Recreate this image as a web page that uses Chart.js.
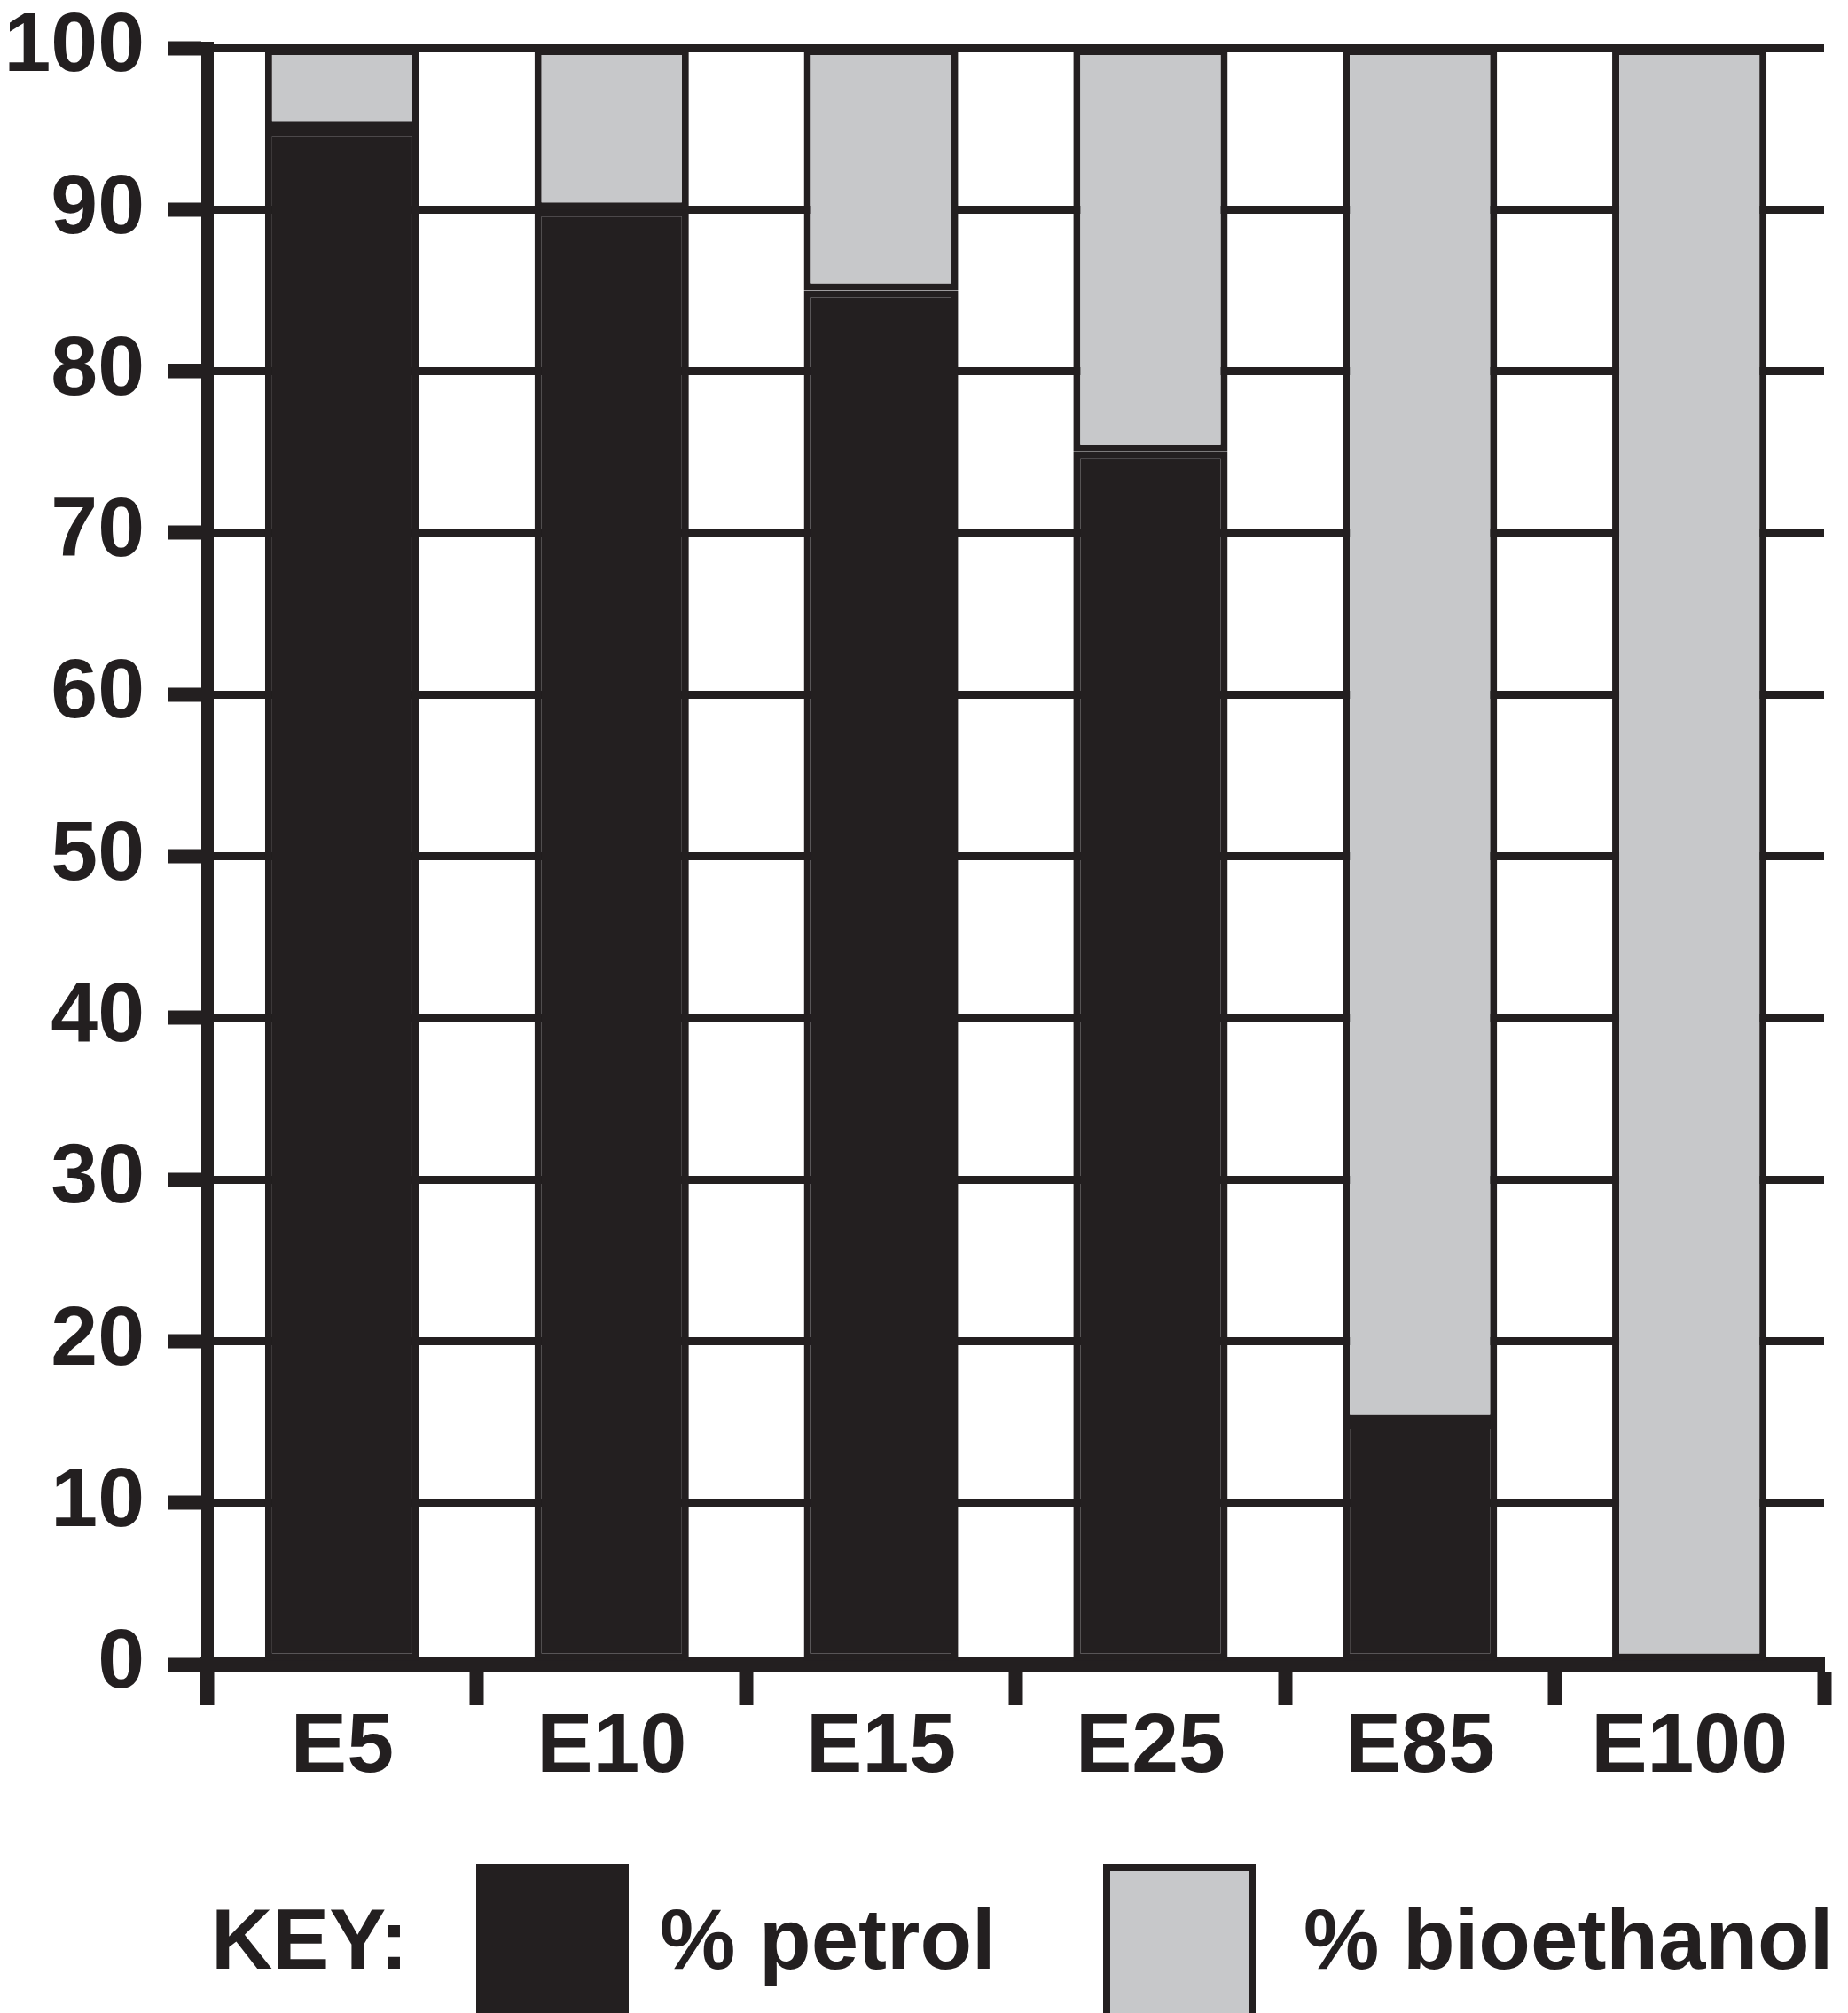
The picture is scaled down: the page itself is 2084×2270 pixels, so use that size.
<!DOCTYPE html>
<html>
<head>
<meta charset="utf-8">
<script src="https://cdn.jsdelivr.net/npm/chart.js@4.4.1/dist/chart.umd.min.js"></script>
<style>
  html, body { margin: 0; padding: 0; background: #fff; overflow: hidden; }
  #wrap { position: relative; width: 2084px; height: 2270px; overflow: hidden; }
  #chart { position: absolute; left: 0; top: -29px; }
  .key { position: absolute; font: bold 96px "Liberation Sans", Arial, sans-serif; line-height: 96px; color: #231f20; white-space: nowrap; }
  .swatch { position: absolute; box-sizing: border-box; top: 2102px; height: 200px; }
</style>
</head>
<body>
<div id="wrap">
  <canvas id="chart" width="2084" height="2049"></canvas>
  <div id="legend"></div>
</div>
<script>
// blends and their make-up (% by volume)
const categories = ['E5', 'E10', 'E15', 'E25', 'E85', 'E100'];
const petrol = [95, 90, 85, 75, 15, 0];
const bioethanol = [5, 10, 15, 25, 85, 100];
const yTicks = [0, 10, 20, 30, 40, 50, 60, 70, 80, 90, 100];
const seriesNames = ['% petrol', '% bioethanol'];

const ink = '#231f20';
const grey = '#c7c8ca';
const yFont = { family: '"Liberation Sans", Arial, sans-serif', size: 95, weight: 'bold' };
const xFont = { family: '"Liberation Sans", Arial, sans-serif', size: 95, weight: 'bold', lineHeight: 1 };

document.addEventListener('DOMContentLoaded', function () {
    const ctx = document.getElementById('chart').getContext('2d');
    const chart = new Chart(ctx, {
        type: 'bar',
        data: {
            labels: categories,
            datasets: [{
                label: seriesNames[0],
                data: petrol,
                backgroundColor: ink,
                borderColor: ink,
                borderWidth: 8,
                borderSkipped: false
            }, {
                label: seriesNames[1],
                data: bioethanol,
                backgroundColor: grey,
                borderColor: ink,
                borderWidth: 8,
                borderSkipped: false
            }]
        },
        options: {
            responsive: false,
            animation: false,
            devicePixelRatio: 1,
            datasets: { bar: { categoryPercentage: 1, barPercentage: 0.573 } },
            layout: { padding: { left: 0, right: 27, top: 6, bottom: 0 } },
            plugins: { legend: { display: false }, tooltip: { enabled: false } },
            scales: {
                x: {
                    stacked: true,
                    grid: { offset: true, drawOnChartArea: false, drawTicks: true, tickLength: 46, tickWidth: 16, tickColor: ink },
                    border: { display: true, width: 17, color: ink },
                    ticks: { font: xFont, color: ink, padding: 1 }
                },
                y: {
                    stacked: true,
                    min: 0,
                    max: 100,
                    afterBuildTicks: function (scale) {
                        scale.ticks = yTicks.map(v => ({ value: v }));
                    },
                    afterFit: function (scale) {
                        scale.width = 234;
                    },
                    grid: { lineWidth: 9, color: ink, tickLength: 45, tickWidth: 16, tickColor: ink },
                    border: { display: true, width: 14, color: ink },
                    ticks: { font: yFont, color: ink, padding: 26 }
                }
            }
        }
    });

    // key under the chart, built from the datasets
    const legend = document.getElementById('legend');
    let html = '<div class="key" style="left:238px;top:2139px">KEY:</div>';
    const boxX = [537, 1244];
    const textX = [744, 1470];
    chart.data.datasets.forEach(function (ds, i) {
        const border = i === 0 ? 'none' : '8px solid ' + ink;
        html += '<div class="swatch" style="left:' + boxX[i] + 'px;width:172px;background:' + ds.backgroundColor + ';border:' + border + '"></div>';
        html += '<div class="key" style="left:' + textX[i] + 'px;top:2139px">' + ds.label + '</div>';
    });
    legend.innerHTML = html;
});
</script>
</body>
</html>
